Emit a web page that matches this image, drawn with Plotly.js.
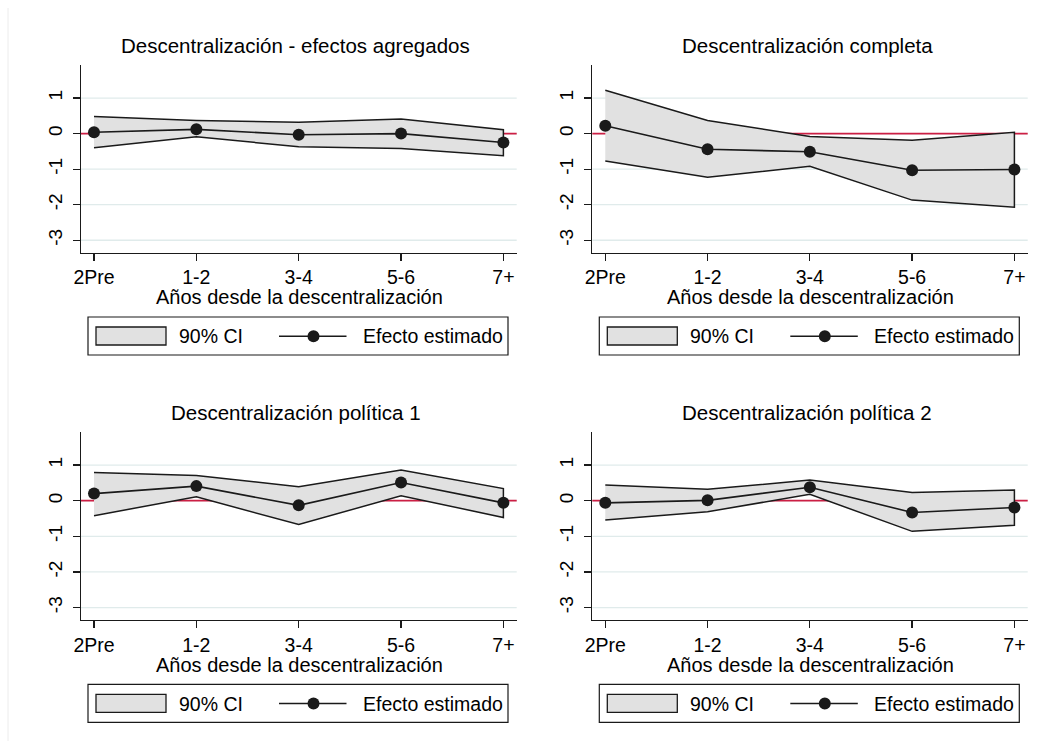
<!DOCTYPE html>
<html>
<head>
<meta charset="utf-8">
<script src="https://cdn.plot.ly/plotly-3.0.1.min.js"></script>
<style>
html,body{margin:0;padding:0;background:#ffffff;}
#chart{width:1049px;height:749px;}
</style>
</head>
<body>
<div id="chart"></div>
<script>
// ---------- data ----------
const categories = ["2Pre", "1-2", "3-4", "5-6", "7+"];
const yTicks = [-3, -2, -1, 0, 1];
const panelTitles = [
  "Descentralización - efectos agregados",
  "Descentralización completa",
  "Descentralización política 1",
  "Descentralización política 2"
];
const xAxisTitle = "Años desde la descentralización";
const legendLabels = ["90% CI", "Efecto estimado"];

const agregadosEst = [0.04, 0.12, -0.03, 0.00, -0.25];
const agregadosHi  = [0.48, 0.37, 0.32, 0.41, 0.11];
const agregadosLo  = [-0.40, -0.09, -0.37, -0.42, -0.62];

const completaEst = [0.22, -0.44, -0.51, -1.03, -1.01];
const completaHi  = [1.22, 0.37, -0.08, -0.19, 0.04];
const completaLo  = [-0.77, -1.23, -0.92, -1.87, -2.07];

const politica1Est = [0.20, 0.41, -0.13, 0.51, -0.06];
const politica1Hi  = [0.79, 0.71, 0.39, 0.86, 0.34];
const politica1Lo  = [-0.42, 0.11, -0.67, 0.14, -0.47];

const politica2Est = [-0.06, 0.01, 0.38, -0.33, -0.19];
const politica2Hi  = [0.44, 0.32, 0.58, 0.23, 0.30];
const politica2Lo  = [-0.54, -0.31, 0.18, -0.86, -0.69];

const seriesSets = [
  {est: agregadosEst, hi: agregadosHi, lo: agregadosLo},
  {est: completaEst, hi: completaHi, lo: completaLo},
  {est: politica1Est, hi: politica1Hi, lo: politica1Lo},
  {est: politica2Est, hi: politica2Hi, lo: politica2Lo}
];

// ---------- layout geometry (pixels) ----------
const W = 1049, H = 749;
const boxes = [
  {left: 81,    right: 516.7,  top: 65,  bottom: 252.7},
  {left: 592.3, right: 1027.7, top: 65,  bottom: 252.7},
  {left: 81,    right: 516.7,  top: 432, bottom: 620},
  {left: 592.3, right: 1027.7, top: 432, bottom: 620}
];
const px = v => v / W;
const py = v => 1 - v / H;

const FONT = "Liberation Sans, Arial, Helvetica, sans-serif";
const INK = "#1a1a1a";
const CI_FILL = "#e1e1e1";
const ZERO_RED = "#cc1f44";
const GRID = "#e0ebeb";

const traces = [];
const layout = {
  width: W, height: H,
  margin: {l: 0, r: 0, t: 0, b: 0},
  paper_bgcolor: "#ffffff",
  plot_bgcolor: "#ffffff",
  showlegend: false,
  font: {family: FONT, color: "#000000", size: 19},
  shapes: [],
  annotations: []
};

// faint outer border on the left
layout.shapes.push({type: "line", xref: "paper", yref: "paper",
  x0: px(8), x1: px(8), y0: py(8), y1: py(741),
  line: {color: "#ececec", width: 1}});

seriesSets.forEach((s, i) => {
  const n = i === 0 ? "" : String(i + 1);
  const xa = "x" + n, ya = "y" + n;
  const b = boxes[i];

  // CI polygon
  traces.push({
    type: "scatter", mode: "lines", xaxis: xa, yaxis: ya,
    x: categories.concat(categories.slice().reverse()),
    y: s.hi.concat(s.lo.slice().reverse()),
    fill: "toself", fillcolor: CI_FILL,
    line: {color: INK, width: 1.5},
    hoverinfo: "skip", name: legendLabels[0]
  });
  // estimate line
  traces.push({
    type: "scatter", mode: "lines+markers", xaxis: xa, yaxis: ya,
    x: categories, y: s.est,
    line: {color: INK, width: 1.6},
    marker: {color: INK, size: 12},
    name: legendLabels[1]
  });

  layout["xaxis" + n] = {
    domain: [px(b.left), px(b.right)], anchor: ya,
    type: "category", range: [-0.127, 4.13],
    showline: true, linecolor: INK, linewidth: 1.3,
    ticks: "outside", ticklen: 7, tickwidth: 1.3, tickcolor: INK,
    tickfont: {family: FONT, size: 19.5, color: "#000"},
    ticklabelstandoff: 0,
    showgrid: false, zeroline: false, fixedrange: true
  };
  layout["yaxis" + n] = {
    domain: [py(b.bottom), py(b.top)], anchor: xa,
    range: [-3.35, 1.93],
    tickvals: yTicks, ticktext: yTicks.map(String), tickangle: -90,
    showline: true, linecolor: INK, linewidth: 1.3,
    ticks: "outside", ticklen: 7, tickwidth: 1.3, tickcolor: INK,
    tickfont: {family: FONT, size: 19, color: "#000"},
    ticklabelstandoff: 3,
    showgrid: false, zeroline: false, fixedrange: true
  };

  // horizontal grid lines at each y tick (below traces)
  yTicks.forEach(v => {
    layout.shapes.push({type: "line", layer: "below",
      xref: xa + " domain", x0: 0, x1: 1, yref: ya, y0: v, y1: v,
      line: {color: GRID, width: 1.3}});
  });
  // zero reference line (above grid, below traces)
  layout.shapes.push({type: "line", layer: "below",
    xref: xa + " domain", x0: 0, x1: 1, yref: ya, y0: 0, y1: 0,
    line: {color: ZERO_RED, width: 1.8}});

  const cx = (b.left + b.right) / 2;
  // panel title
  layout.annotations.push({xref: "paper", yref: "paper",
    x: px(cx - 3), y: py(b.top - 19), xanchor: "center", yanchor: "middle",
    text: panelTitles[i], showarrow: false,
    font: {family: FONT, size: 20.5, color: "#000"}});
  // x axis title
  layout.annotations.push({xref: "paper", yref: "paper",
    x: px(cx + 1), y: py(b.bottom + 44.5), xanchor: "center", yanchor: "middle",
    text: xAxisTitle, showarrow: false,
    font: {family: FONT, size: 20, color: "#000"}});

  // legend box
  const L = b.left, ly = b.bottom + 83.5;
  layout.shapes.push({type: "rect", xref: "paper", yref: "paper",
    x0: px(L + 7), x1: px(L + 427), y0: py(b.bottom + 64.3), y1: py(b.bottom + 102.3),
    line: {color: INK, width: 1.2}, fillcolor: "#ffffff"});
  layout.shapes.push({type: "rect", xref: "paper", yref: "paper",
    x0: px(L + 15), x1: px(L + 85), y0: py(b.bottom + 74.3), y1: py(b.bottom + 92.3),
    line: {color: INK, width: 1.3}, fillcolor: CI_FILL});
  layout.shapes.push({type: "line", xref: "paper", yref: "paper",
    x0: px(L + 198), x1: px(L + 265.5), y0: py(ly), y1: py(ly),
    line: {color: INK, width: 1.6}});
  layout.shapes.push({type: "circle", xref: "paper", yref: "paper",
    xsizemode: "pixel", ysizemode: "pixel",
    xanchor: px(L + 232.5), yanchor: py(ly),
    x0: -6, x1: 6, y0: -6, y1: 6,
    line: {color: INK, width: 0}, fillcolor: INK});
  layout.annotations.push({xref: "paper", yref: "paper",
    x: px(L + 95.5), y: py(ly), xanchor: "left", yanchor: "middle",
    text: legendLabels[0], showarrow: false,
    font: {family: FONT, size: 19.5, color: "#000"}});
  layout.annotations.push({xref: "paper", yref: "paper",
    x: px(L + 280), y: py(ly), xanchor: "left", yanchor: "middle",
    text: legendLabels[1], showarrow: false,
    font: {family: FONT, size: 19.5, color: "#000"}});
});

Plotly.newPlot("chart", traces, layout, {displayModeBar: false, staticPlot: true});
</script>
</body>
</html>
